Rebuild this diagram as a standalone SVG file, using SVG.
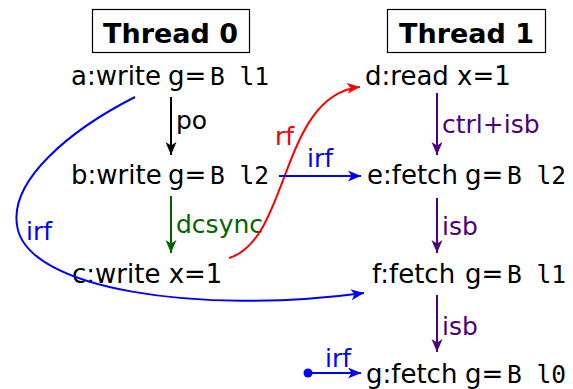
<svg xmlns="http://www.w3.org/2000/svg" width="573" height="389" viewBox="0 0 573 389">
<style>
.t{font-family:"DejaVu Sans",sans-serif;font-size:26px;fill:#000}
.m{font-family:"DejaVu Sans Mono",monospace;font-size:24.5px}
.h{font-family:"DejaVu Sans",sans-serif;font-size:27px;font-weight:bold}
.lbl{font-family:"DejaVu Sans",sans-serif;font-size:25px}
.e{fill:none;stroke-width:2}
</style>
<defs>
<marker id="ak" markerUnits="userSpaceOnUse" markerWidth="14" markerHeight="12" refX="13" refY="5.5" orient="auto"><path d="M0,0 L13,5.5 L0,11 L3.5,5.5 z" fill="#000"/></marker>
<marker id="ag" markerUnits="userSpaceOnUse" markerWidth="14" markerHeight="12" refX="13" refY="5.5" orient="auto"><path d="M0,0 L13,5.5 L0,11 L3.5,5.5 z" fill="#006400"/></marker>
<marker id="ap" markerUnits="userSpaceOnUse" markerWidth="14" markerHeight="12" refX="13" refY="5.5" orient="auto"><path d="M0,0 L13,5.5 L0,11 L3.5,5.5 z" fill="#4B0082"/></marker>
<marker id="ab" markerUnits="userSpaceOnUse" markerWidth="14" markerHeight="12" refX="13" refY="5.5" orient="auto"><path d="M0,0 L13,5.5 L0,11 L3.5,5.5 z" fill="#0000FF"/></marker>
<marker id="ar" markerUnits="userSpaceOnUse" markerWidth="14" markerHeight="12" refX="13" refY="5.5" orient="auto"><path d="M0,0 L13,5.5 L0,11 L3.5,5.5 z" fill="#FF0000"/></marker>
</defs>
<rect width="573" height="389" fill="#fff"/>
<g id="thread0">
<rect x="92.5" y="9.5" width="157" height="43" fill="none" stroke="#000" stroke-width="1.2"/>
<text class="h" x="103" y="43" textLength="135">Thread 0</text>
</g>
<g id="thread1">
<rect x="387.5" y="9.5" width="158" height="43" fill="none" stroke="#000" stroke-width="1.2"/>
<text class="h" x="399" y="43" textLength="135">Thread 1</text>
</g>
<g id="a"><text class="t" x="71" y="85">a:write <tspan x="168">g=</tspan><tspan class="m" x="210">B l1</tspan></text></g>
<g id="b"><text class="t" x="71" y="184">b:write <tspan x="168">g=</tspan><tspan class="m" x="210">B l2</tspan></text></g>
<g id="c"><text class="t" x="72" y="283">c:write x=1</text></g>
<g id="d"><text class="t" x="365" y="85">d:read x=1</text></g>
<g id="e"><text class="t" x="367" y="184">e:fetch <tspan x="465">g=</tspan><tspan class="m" x="507">B l2</tspan></text></g>
<g id="f"><text class="t" x="372" y="283">f:fetch <tspan x="465">g=</tspan><tspan class="m" x="507">B l1</tspan></text></g>
<g id="g"><text class="t" x="366" y="383">g:fetch <tspan x="465">g=</tspan><tspan class="m" x="507">B l0</tspan></text></g>
<g id="connectors">
<line class="e" x1="171" y1="97" x2="171" y2="155" stroke="#000" marker-end="url(#ak)"/>
<text class="lbl" x="176" y="129" fill="#000">po</text>
<line class="e" x1="171" y1="196" x2="171" y2="253" stroke="#006400" marker-end="url(#ag)"/>
<text class="lbl" x="176" y="233" fill="#006400">dcsync</text>
<line class="e" x1="437" y1="93" x2="437" y2="155" stroke="#4B0082" marker-end="url(#ap)"/>
<text class="lbl" x="442" y="133" fill="#4B0082">ctrl+isb</text>
<line class="e" x1="437" y1="198" x2="437" y2="253" stroke="#4B0082" marker-end="url(#ap)"/>
<text class="lbl" x="442" y="235" fill="#4B0082">isb</text>
<line class="e" x1="437" y1="295" x2="437" y2="352" stroke="#4B0082" marker-end="url(#ap)"/>
<text class="lbl" x="442" y="335" fill="#4B0082">isb</text>
<path class="e" d="M229,258 C290,240 280,95 360,87" stroke="#FF0000" marker-end="url(#ar)"/>
<text class="lbl" x="275" y="145" fill="#FF0000">rf</text>
<line class="e" x1="279" y1="176" x2="361" y2="176" stroke="#0000FF" marker-end="url(#ab)"/>
<text class="lbl" x="307" y="167" fill="#0000FF">irf</text>
<path class="e" d="M135,97 C70,130 10,180 17,225 C25,290 200,315 364,293" stroke="#0000FF" marker-end="url(#ab)"/>
<text class="lbl" x="26" y="240" fill="#0000FF">irf</text>
<circle cx="308" cy="373" r="4.5" fill="#0000FF"/>
<line class="e" x1="308" y1="373" x2="361" y2="373" stroke="#0000FF" marker-end="url(#ab)"/>
<text class="lbl" x="325" y="367" fill="#0000FF">irf</text>
</g>
</svg>
